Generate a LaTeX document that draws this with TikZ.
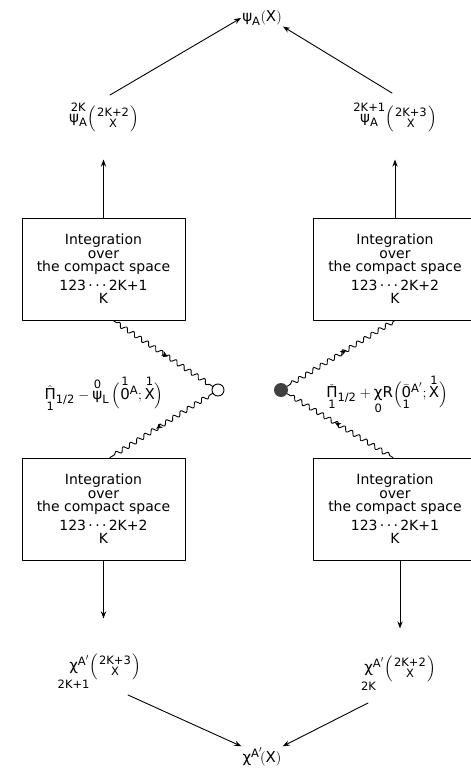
\documentclass[tikz,border=0pt]{standalone}
\usepackage{amsmath}
\usepackage{mathtools}
\usepackage{fontspec}
\setmainfont{DejaVu Sans}
\DeclareMathSizes{15}{15}{11.5}{9}
\usetikzlibrary{arrows.meta,positioning,calc,decorations.pathmorphing,decorations.markings}

\newcommand{\T}[1]{\text{#1}}

\begin{document}
\begin{tikzpicture}[x=1pt, y=-1pt, >=Stealth, line cap=round, line join=round,
  box/.style={draw, line width=0.9pt, minimum width=163pt, minimum height=102pt, inner sep=0pt},
  boxtext/.style={align=center, font=\fontsize{14}{13.5}\selectfont, inner sep=0pt},
  lbl/.style={font=\fontsize{15}{17}\selectfont, inner sep=1pt},
  wavy/.style={decorate, decoration={snake, amplitude=2.2pt, segment length=8.5pt, pre length=4pt, post length=2pt}, line width=0.9pt},
  midarrow/.style={decorate, decoration={markings, mark=at position 0.55 with {\arrow{Stealth[length=6.5pt,width=5pt]}}}},
  flow/.style={->, line width=0.9pt}]

\useasboundingbox (0,0) rectangle (471,769);

% top result
\node[lbl] (psiA) at (262,18) {$\T{ψ}_{\T{A}}(\T{X})$};
\node[lbl] (psiL) at (104,117) {$\overset{\T{2K}}{\T{ψ}_{\T{A}}}\Bigl(\genfrac{}{}{0pt}{}{\T{2K+2}}{\T{X}}\Bigr)$};
\node[lbl] (psiR) at (395,117) {$\overset{\T{2K+1}}{\T{ψ}_{\T{A}}}\Bigl(\genfrac{}{}{0pt}{}{\T{2K+3}}{\T{X}}\Bigr)$};
\coordinate (fromL) at (110,95);
\coordinate (fromR) at (392,93);
\draw[flow] (fromL) -- (psiA.west);
\draw[flow] (fromR) -- (psiA.south east);

% integration boxes
\node[box] (intLup) at (103.5,269) {};
\node[box] (intRup) at (395,269) {};
\node[box] (intLdn) at (103.5,509) {};
\node[box] (intRdn) at (395,509) {};
\node[boxtext] (txtLup) at (intLup) {Integration\\over\\the compact space\\[5pt]123\,·\,·\,·\,2K+1\\K};
\node[boxtext] (txtRup) at (intRup) {Integration\\over\\the compact space\\[5pt]123\,·\,·\,·\,2K+2\\K};
\node[boxtext] (txtLdn) at (intLdn) {Integration\\over\\the compact space\\[5pt]123\,·\,·\,·\,2K+2\\K};
\node[boxtext] (txtRdn) at (intRdn) {Integration\\over\\the compact space\\[5pt]123\,·\,·\,·\,2K+1\\K};

\draw[flow] (intLup.north) -- ++(0,-58);
\draw[flow] (intRup.north) -- ++(0,-58);

% vertices
\node[draw, circle, minimum size=12pt, inner sep=0pt, line width=0.9pt, fill=white] (vtxL) at (218,390) {};
\node[circle, fill=black!75, minimum size=14pt, inner sep=0pt] (vtxR) at (281,390) {};
\node[lbl] (fmlL) at (104,394) {$\underset{\T{1}}{\hat{\T{Π}}}{}_{\T{1/2}}-\overset{\T{0}}{\T{ψ}}{}_{\T{L}}\,\Bigl(\overset{\T{1}}{\T{0}}{}^{\T{A}};\overset{\T{1}}{\T{X}}\Bigr)$};
\node[lbl] (fmlR) at (387,394) {$\underset{\T{1}}{\check{\T{Π}}}{}_{\T{1/2}}+\underset{\T{0}}{\T{χ}}\T{R}\Bigl(\underset{\T{1}}{\bar{\T{0}}}{}^{\T{A}'};\overset{\T{1}}{\T{X}}\Bigr)$};

\coordinate (outLup) at ([xshift=9.5pt]intLup.south);
\coordinate (inLdn) at ([xshift=6.5pt]intLdn.north);
\coordinate (outRup) at (intRup.south);
\coordinate (inRdn) at ([xshift=-2pt]intRdn.north);
\draw[wavy] (outLup) -- (vtxL);
\draw[wavy] (vtxL) -- (inLdn);
\draw[wavy] (vtxR) -- (outRup);
\draw[wavy] (vtxR) -- (inRdn);
\draw[midarrow] (outLup) -- (vtxL);
\draw[midarrow] (vtxL) -- (inLdn);
\draw[midarrow] (vtxR) -- (outRup);
\draw[midarrow] (inRdn) -- (vtxR);

% lower results
\node[lbl] (chiL) at (105,672) {$\underset{\mathclap{\T{2K+1}}}{\T{χ}\rule[-7pt]{0pt}{1pt}}{}^{\T{A}'}\Bigl(\genfrac{}{}{0pt}{}{\T{2K+3}}{\T{X}}\Bigr)$};
\node[lbl] (chiR) at (400,674) {$\underset{\mathclap{\T{2K}}}{\T{χ}\rule[-7pt]{0pt}{1pt}}{}^{\T{A}'}\Bigl(\genfrac{}{}{0pt}{}{\T{2K+2}}{\T{X}}\Bigr)$};
\draw[flow] (intLdn.south) -- ++(0,58);
\draw[flow] ([xshift=5pt]intRdn.south) -- ++(0,68);

\node[lbl] (chiA) at (262,757) {$\T{χ}^{\T{A}'}\!(\T{X})$};
\coordinate (fromLdn) at (128,695);
\coordinate (fromRdn) at (368,703);
\draw[flow] (fromLdn) -- (chiA.north west);
\draw[flow] (fromRdn) -- (chiA.north east);

\end{tikzpicture}
\end{document}
